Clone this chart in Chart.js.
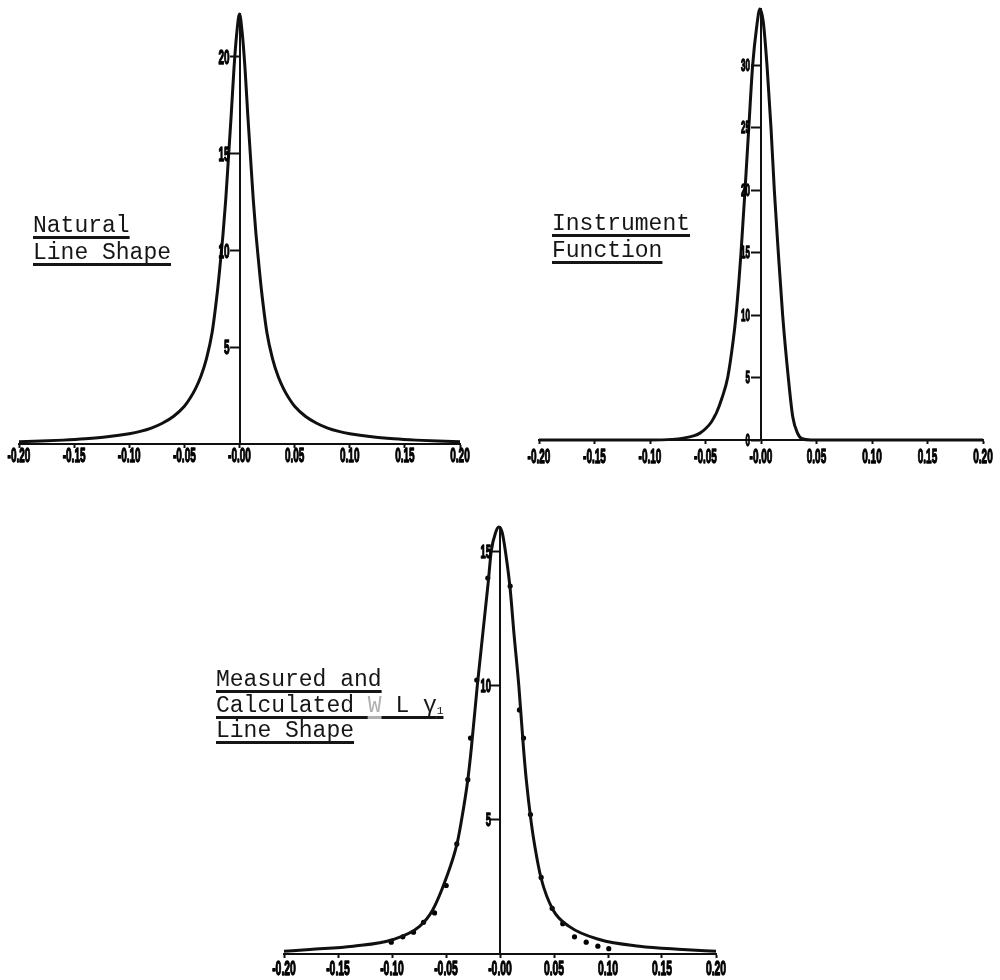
<!DOCTYPE html>
<html>
<head>
<meta charset="utf-8">
<script src="https://cdn.jsdelivr.net/npm/chart.js@4.4.1/dist/chart.umd.min.js"></script>
<style>
  html, body { margin: 0; padding: 0; background: #fff; }
  body { width: 1000px; height: 980px; position: relative; overflow: hidden; }
  canvas { position: absolute; }
  .caption {
    position: absolute;
    font-family: "Liberation Mono", "Courier New", monospace;
    font-size: 23px;
    color: #161616;
    white-space: pre;
  }
  .caption span {
    text-decoration: underline;
    text-decoration-thickness: 2.5px;
    text-underline-offset: 4px;
    text-decoration-skip-ink: none;
  }
  .caption .faint { color: #b0b0b0; }
  .caption sub { font-size: 11px; line-height: 0; vertical-align: -2px; }
</style>
</head>
<body>
<canvas id="natural" width="480" height="470" style="left:0;top:0"></canvas>
<canvas id="instrument" width="500" height="470" style="left:500px;top:0"></canvas>
<canvas id="measured" width="560" height="500" style="left:200px;top:480px"></canvas>

<div class="caption" style="left:33px;top:213px;line-height:27px"><span>Natural</span>
<span>Line Shape</span></div>
<div class="caption" style="left:552px;top:211px;line-height:26.6px"><span>Instrument</span>
<span>Function</span></div>
<div class="caption" style="left:216px;top:668px;line-height:25.5px"><span>Measured and</span>
<span>Calculated <span class="faint">W</span> L γ<sub>1</sub></span>
<span>Line Shape</span></div>

<script>
// Shared x axis (wavelength offset)
const xTickValues = [-0.20, -0.15, -0.10, -0.05, 0.00, 0.05, 0.10, 0.15, 0.20];
const xTickLabels = ['-0.20', '-0.15', '-0.10', '-0.05', '-0.00', '0.05', '0.10', '0.15', '0.20'];

// Natural line shape
const naturalX = [-0.20, -0.18, -0.16, -0.14, -0.12, -0.10, -0.09, -0.08, -0.07, -0.06, -0.05, -0.045, -0.04, -0.035, -0.03, -0.025, -0.02, -0.0175, -0.015, -0.0125, -0.01, -0.0075, -0.005, -0.0025,
                  0,
                  0.0025, 0.005, 0.0075, 0.01, 0.0125, 0.015, 0.0175, 0.02, 0.025, 0.03, 0.035, 0.04, 0.045, 0.05, 0.06, 0.07, 0.08, 0.09, 0.10, 0.12, 0.14, 0.16, 0.18, 0.20];
const naturalY = [0.12, 0.15, 0.20, 0.27, 0.37, 0.53, 0.65, 0.82, 1.07, 1.42, 1.95, 2.35, 2.85, 3.50, 4.40, 5.70, 7.90, 9.30, 10.8, 12.6, 14.8, 17.0, 19.4, 21.2,
                  22.2,
                  21.2, 19.4, 17.0, 14.8, 12.6, 10.8, 9.30, 7.90, 5.70, 4.40, 3.50, 2.85, 2.35, 1.95, 1.42, 1.07, 0.82, 0.65, 0.53, 0.37, 0.27, 0.20, 0.15, 0.12];
const naturalYTicks = [5, 10, 15, 20];
const naturalYLabels = ['5', '10', '15', '20'];

// Instrument function
const instrumentX = [-0.20, -0.10, -0.08, -0.07, -0.06, -0.055, -0.05, -0.045, -0.042, -0.04, -0.035, -0.03, -0.025, -0.0225, -0.02, -0.018, -0.0144, -0.011, -0.0075, -0.004, -0.001,
                     0.002, 0.0054, 0.009, 0.012, 0.0156, 0.0195, 0.0246, 0.0286, 0.033, 0.037, 0.045, 0.20];
const instrumentY = [0, 0, 0.05, 0.15, 0.35, 0.55, 0.90, 1.40, 1.86, 2.20, 3.40, 5.00, 8.00, 10.0, 12.6, 15.0, 20.0, 25.0, 30.0, 33.0, 34.5,
                     33.5, 30.0, 25.0, 20.0, 15.0, 10.0, 5.00, 1.86, 0.53, 0.10, 0, 0];
const instrumentYTicks = [0, 5, 10, 15, 20, 25, 30];
const instrumentYLabels = ['0', '5', '10', '15', '20', '25', '30'];

// Calculated W Lγ1 line shape
const calculatedX = [-0.20, -0.176, -0.136, -0.099, -0.0745, -0.0622, -0.0498, -0.040, -0.036, -0.0298, -0.0267, -0.021, -0.011, -0.0081, -0.004, -0.001,
                     0.002, 0.005, 0.0094, 0.013, 0.0174, 0.0215, 0.0243, 0.0289, 0.032, 0.038, 0.049, 0.064, 0.092, 0.129, 0.169, 0.20];
const calculatedY = [0.10, 0.17, 0.29, 0.54, 1.03, 1.65, 2.83, 4.07, 4.90, 6.49, 7.60, 10.0, 13.8, 15.0, 15.7, 15.9,
                     15.7, 15.0, 13.6, 11.9, 10.0, 7.80, 6.50, 4.90, 4.07, 2.83, 1.65, 1.03, 0.54, 0.29, 0.17, 0.10];

// Measured points
const measuredX = [-0.1007, -0.090, -0.0801, -0.0708, -0.0606, -0.0498, -0.040, -0.0298, -0.0273, -0.0215, -0.0113,
                   0.0094, 0.018, 0.0218, 0.0282, 0.0381, 0.0483, 0.0581, 0.069, 0.0798, 0.0906, 0.1007];
const measuredY = [0.44, 0.64, 0.81, 1.18, 1.53, 2.55, 4.10, 6.49, 8.04, 10.2, 14.0,
                   13.7, 9.09, 8.04, 5.19, 2.85, 1.70, 1.13, 0.64, 0.44, 0.29, 0.20];
const measuredYTicks = [5, 10, 15];
const measuredYLabels = ['5', '10', '15'];

const INK = '#101010';
const LABEL_FAMILY = '"Liberation Sans", Arial, sans-serif';

// Tick labels in a tall, narrow heavy face, placed from the chart's own scales
const squeezedLabels = {
  id: 'squeezedLabels',
  afterDraw(chart, args, o) {
    const { ctx, scales: { x, y } } = chart;
    const put = (text, px, py) => {
      ctx.save();
      ctx.translate(px, py);
      ctx.scale(o.squeeze, 1);
      ctx.strokeText(text, 0, 0);
      ctx.fillText(text, 0, 0);
      ctx.restore();
    };
    ctx.save();
    ctx.fillStyle = '#000';
    ctx.strokeStyle = '#000';
    ctx.lineWidth = 1.3;
    ctx.lineJoin = 'round';
    ctx.textBaseline = 'alphabetic';

    ctx.font = `bold ${o.xSize}px ${LABEL_FAMILY}`;
    ctx.textAlign = 'center';
    x.ticks.forEach((t, i) => put(xTickLabels[i], x.getPixelForValue(t.value), x.top + o.xDrop));

    ctx.font = `bold ${o.ySize}px ${LABEL_FAMILY}`;
    ctx.textAlign = 'right';
    const axisX = x.getPixelForValue(0);
    y.ticks.forEach((t, i) => put(o.yLabels[i], axisX - o.yGap, y.getPixelForValue(t.value) + o.ySize * 0.36));
    ctx.restore();
  }
};

const points = (xs, ys) => xs.map((x, i) => ({ x: x, y: ys[i] }));

function curve(xs, ys) {
  return {
    data: points(xs, ys),
    borderColor: INK,
    borderWidth: 3,
    pointRadius: 0,
    fill: false,
    cubicInterpolationMode: 'monotone',
    clip: false
  };
}

function drawPanel(id, cfg) {
  return new Chart(document.getElementById(id), {
    type: 'line',
    data: { datasets: cfg.datasets },
    plugins: [squeezedLabels],
    options: {
      responsive: false,
      animation: false,
      events: [],
      layout: { padding: cfg.padding },
      plugins: {
        legend: { display: false },
        tooltip: { enabled: false },
        squeezedLabels: cfg.labels
      },
      scales: {
        x: {
          type: 'linear',
          position: 'bottom',
          min: -0.2,
          max: 0.2,
          afterBuildTicks: (s) => { s.ticks = xTickValues.map(v => ({ value: v })); },
          afterFit: (s) => { s.height = 22; },
          ticks: { display: false },
          grid: { drawOnChartArea: false, drawTicks: true, tickLength: 4, tickWidth: 2, color: INK },
          border: { display: true, color: INK, width: 2 }
        },
        y: {
          type: 'linear',
          position: { x: 0 },
          min: 0,
          max: cfg.yMax,
          afterBuildTicks: (s) => { s.ticks = cfg.yTicks.map(v => ({ value: v })); },
          ticks: { display: false },
          grid: { drawOnChartArea: false, drawTicks: true, tickLength: cfg.yTickLength, tickWidth: 2, color: INK },
          border: { display: true, color: INK, width: 2 }
        }
      }
    }
  });
}

drawPanel('natural', {
  datasets: [curve(naturalX, naturalY)],
  padding: { left: 19, right: 20, top: 14, bottom: 4 },
  yMax: 22.2,
  yTicks: naturalYTicks,
  yTickLength: 9,
  labels: { xSize: 20, xDrop: 18, ySize: 20, yGap: 10, squeeze: 0.5, yLabels: naturalYLabels }
});

drawPanel('instrument', {
  datasets: [curve(instrumentX, instrumentY)],
  padding: { left: 39, right: 17, top: 9, bottom: 8 },
  yMax: 34.5,
  yTicks: instrumentYTicks,
  yTickLength: 9,
  labels: { xSize: 20, xDrop: 23, ySize: 16, yGap: 11, squeeze: 0.5, yLabels: instrumentYLabels }
});

drawPanel('measured', {
  datasets: [
    curve(calculatedX, calculatedY),
    {
      data: points(measuredX, measuredY),
      showLine: false,
      pointRadius: 2.6,
      pointBorderWidth: 0,
      pointBackgroundColor: '#000',
      clip: false
    }
  ],
  padding: { left: 84, right: 44, top: 47, bottom: 4 },
  yMax: 15.9,
  yTicks: measuredYTicks,
  yTickLength: 9,
  labels: { xSize: 20, xDrop: 21, ySize: 18, yGap: 9, squeeze: 0.52, yLabels: measuredYLabels }
});
</script>
</body>
</html>
